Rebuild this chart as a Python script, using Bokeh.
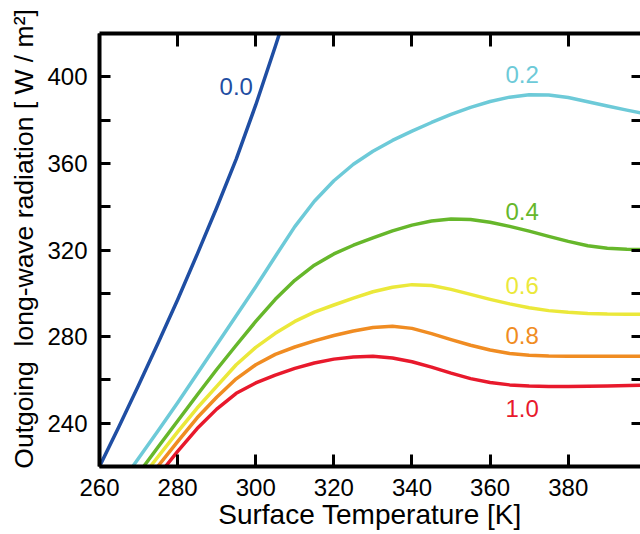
from bokeh.plotting import figure
from bokeh.models import LinearAxis, FixedTicker, Range1d
from bokeh.core.properties import value
from bokeh.embed import file_html
from bokeh.resources import INLINE

# ---------------- data ----------------
t_00 = [260, 265, 270, 275, 280, 285, 290, 295, 300, 305, 310]
olr_00 = [220, 238.5, 257.5, 277, 297, 318, 339.5, 362, 387, 414, 442]

t_02 = [268.5, 275, 280, 285, 290, 295, 300, 305, 310, 315, 320, 325, 330, 335, 340,
        345, 350, 355, 360, 365, 370, 375, 380, 385, 390, 395, 400]
olr_02 = [220, 236.5, 249.5, 262.8, 276.2, 289.6, 303, 317, 330.8, 342.5, 352, 359.6, 365.6, 370.6, 374.9,
          378.9, 382.6, 385.9, 388.6, 390.6, 391.7, 391.6, 390.4, 388.5, 386.5, 384.6, 382.8]

t_04 = [271.3, 275, 280, 285, 290, 295, 300, 305, 310, 315, 320, 325, 330, 335, 340,
        345, 350, 355, 360, 365, 370, 375, 380, 385, 390, 395, 400]
olr_04 = [220, 229, 241, 253, 264.8, 276, 287, 297.2, 306, 313, 318.2, 322.2, 325.6, 328.8, 331.5,
          333.4, 334.3, 334.1, 332.8, 330.9, 328.7, 326.3, 324, 322, 320.8, 320.3, 320.2]

t_06 = [273, 280, 285, 290, 295, 300, 305, 310, 315, 320, 325, 330, 335, 340,
        345, 350, 355, 360, 365, 370, 375, 380, 385, 390, 395, 400]
olr_06 = [220, 236, 247, 257, 267, 275, 281.5, 287, 291.3, 294.6, 297.8, 300.7, 302.8, 304,
          303.6, 301.8, 299.5, 297.2, 295.1, 293.3, 292, 291.2, 290.7, 290.4, 290.3, 290.3]

t_08 = [274.9, 280, 285, 290, 295, 300, 305, 310, 315, 320, 325, 330, 335, 340,
        345, 350, 355, 360, 365, 370, 375, 380, 390, 400]
olr_08 = [220, 231.5, 242.5, 252, 260.5, 267, 271.8, 275.2, 278, 280.5, 282.6, 284.2, 284.8, 283.8,
          281.4, 278.6, 276, 273.8, 272.2, 271.4, 271, 270.9, 270.9, 270.9]

t_10 = [276.9, 280, 285, 290, 295, 300, 305, 310, 315, 320, 325, 330, 335, 340,
        345, 350, 355, 360, 365, 370, 375, 380, 390, 400]
olr_10 = [220, 227, 237.5, 246.5, 253.8, 258.6, 262.2, 265.3, 267.8, 269.6, 270.6, 270.9, 270.1, 268.4,
          265.9, 263.1, 260.6, 258.8, 257.7, 257.2, 257, 257, 257.2, 257.6]

series_labels = ["0.0", "0.2", "0.4", "0.6", "0.8", "1.0"]
series_colors = ["#1f4ea3", "#6dcad8", "#66b72b", "#ebe83a", "#f08c22", "#e8192c"]
series_t = [t_00, t_02, t_04, t_06, t_08, t_10]
series_olr = [olr_00, olr_02, olr_04, olr_06, olr_08, olr_10]

label_t = [295, 368.2, 368.2, 368.2, 368.2, 368.2]
label_olr = [395.4, 400.9, 337.6, 303.7, 280.6, 247]

x_ticks = [260, 280, 300, 320, 340, 360, 380]
y_major = [240, 280, 320, 360, 400]
y_minor = [220, 260, 300, 340, 380]
y_all = [220, 240, 260, 280, 300, 320, 340, 360, 380, 400, 420]

FONT = "Liberation Sans"

p = figure(width=640, height=534,
           x_range=Range1d(260, 398.5), y_range=Range1d(220, 420),
           output_backend="svg", toolbar_location=None,
           x_axis_location=None, y_axis_location=None,
           min_border_left=99, min_border_top=33, min_border_right=0, min_border_bottom=68)
p.grid.visible = False
p.outline_line_color = None
p.background_fill_color = "white"
p.border_fill_color = "white"

for t, o, c in zip(series_t, series_olr, series_colors):
    p.line(t, o, line_color=c, line_width=3.5, line_join="round")

p.text(x=label_t, y=label_olr, text=series_labels, text_color=series_colors,
       text_font=value(FONT), text_font_size="24px",
       text_align="center", text_baseline="middle")


def style_axis(ax, tick_in):
    ax.axis_line_width = 4
    ax.axis_line_color = "black"
    ax.major_tick_in = tick_in
    ax.major_tick_out = 0
    ax.minor_tick_in = tick_in
    ax.minor_tick_out = 0
    ax.major_tick_line_width = 3
    ax.minor_tick_line_width = 3
    ax.major_tick_line_color = "black"
    ax.minor_tick_line_color = "black"
    ax.major_label_text_font = FONT
    ax.major_label_text_color = "black"
    ax.axis_label_text_font = FONT
    ax.axis_label_text_font_style = "normal"
    ax.axis_label_text_color = "black"


xb = LinearAxis(ticker=FixedTicker(ticks=x_ticks), axis_label="Surface Temperature [K]")
style_axis(xb, 12)
xb.major_label_text_font_size = "24px"
xb.major_label_standoff = 12
xb.axis_label_text_font_size = "28px"
xb.axis_label_standoff = 0
p.add_layout(xb, "below")

yl = LinearAxis(ticker=FixedTicker(ticks=y_major, minor_ticks=y_minor),
                axis_label="\u00a0\u00a0\u00a0Outgoing \u00a0long-wave radiation [ W / m\u00b2]")
style_axis(yl, 11)
yl.major_label_text_font_size = "24px"
yl.major_label_standoff = 12
yl.axis_label_text_font_size = "26.5px"
yl.axis_label_standoff = 5
p.add_layout(yl, "left")

xt = LinearAxis(ticker=FixedTicker(ticks=x_ticks))
style_axis(xt, 13)
xt.major_label_text_font_size = "1px"
xt.major_label_text_color = None
xt.major_label_standoff = 0
p.add_layout(xt, "above")

yr = LinearAxis(ticker=FixedTicker(ticks=y_all))
style_axis(yr, 9)
yr.axis_line_color = None
yr.major_label_text_font_size = "1px"
yr.major_label_text_color = None
yr.major_label_standoff = 0
p.add_layout(yr, "right")

open("out.html", "w").write(file_html(p, INLINE))
